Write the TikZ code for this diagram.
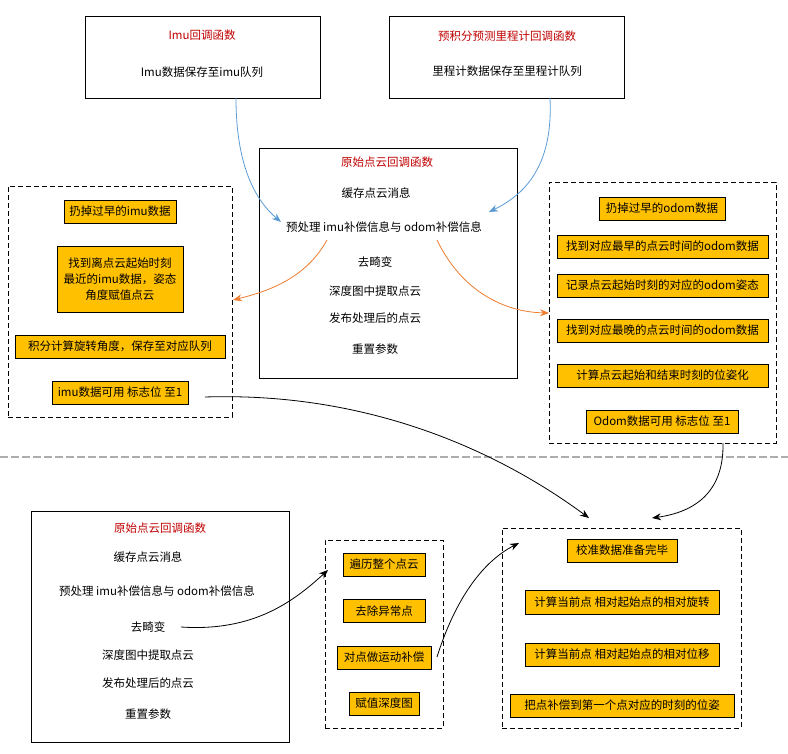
\documentclass[tikz,border=0pt]{standalone}
\usepackage{fontspec}
\setmainfont{Noto Sans CJK SC}
\usetikzlibrary{arrows.meta}
\definecolor{yfill}{HTML}{FFC000}
\definecolor{titlered}{HTML}{C00000}
\definecolor{cblue}{HTML}{5B9BD5}
\definecolor{corange}{HTML}{ED7D31}
\definecolor{sepgray}{HTML}{ADADAD}
\begin{document}
\begin{tikzpicture}[x=1pt,y=-1pt,
  every node/.style={font=\fontsize{11.5}{16}\selectfont},
  wbox/.style={draw=black, line width=0.9pt, fill=white, inner sep=0pt},
  dbox/.style={draw=black, line width=0.9pt, dash pattern=on 5pt off 3pt, inner sep=0pt},
  ybx/.style={draw=black, line width=0.8pt, fill=yfill, inner sep=0pt, align=center, minimum height=23},
  txt/.style={inner sep=0pt},
  ttl/.style={inner sep=0pt, text=titlered},
  conn/.style={line width=0.8pt, -{Stealth[length=9pt,width=7pt]}},
]
\useasboundingbox (0,0) rectangle (788,754);

% separator
\draw[sepgray, line width=1.2pt, dash pattern=on 8pt off 3pt] (0,457) -- (788,457);

% top white boxes
\node[wbox, minimum width=235, minimum height=82] (imu) at (202.5,57) {};
\node[ttl] (imut) at (202,35) {Imu回调函数};
\node[txt] (imub) at (202,72) {Imu数据保存至imu队列};

\node[wbox, minimum width=235, minimum height=82] (odo) at (506.5,57) {};
\node[ttl] (odot) at (507,36) {预积分预测里程计回调函数};
\node[txt] (odob) at (507,71) {里程计数据保存至里程计队列};

% center box
\node[wbox, minimum width=258, minimum height=230] (cen) at (388,263) {};
\node[ttl] (cent) at (387,162) {原始点云回调函数};
\node[txt] (c1) at (376,193) {缓存点云消息};
\node[txt] (c2) at (384,227) {预处理 imu补偿信息与 odom补偿信息};
\node[txt] (c3) at (375,262) {去畸变};
\node[txt] (c4) at (375,291) {深度图中提取点云};
\node[txt] (c5) at (375,318) {发布处理后的点云};
\node[txt] (c6) at (375,349) {重置参数};

% left dashed group
\node[dbox, minimum width=224, minimum height=231] (lg) at (120,301.5) {};
\node[ybx, minimum width=112] (lb1) at (120,211.5) {扔掉过早的imu数据};
\node[ybx, minimum width=126, minimum height=66] (lb2) at (120,279) {找到离点云起始时刻\\最近的imu数据，姿态\\角度赋值点云};
\node[ybx, minimum width=210] (lb3) at (120,346.5) {积分计算旋转角度，保存至对应队列};
\node[ybx, minimum width=136] (lb4) at (120,392.5) {imu数据可用 标志位 至1};

% right dashed group
\node[dbox, minimum width=227, minimum height=261] (rg) at (662.5,312.5) {};
\node[ybx, minimum width=126] (rb1) at (662,208.5) {扔掉过早的odom数据};
\node[ybx, minimum width=211] (rb2) at (662.5,246.5) {找到对应最早的点云时间的odom数据};
\node[ybx, minimum width=211] (rb3) at (662.5,285.5) {记录点云起始时刻的对应的odom姿态};
\node[ybx, minimum width=211] (rb4) at (662.5,330.5) {找到对应最晚的点云时间的odom数据};
\node[ybx, minimum width=211] (rb5) at (662.5,375.5) {计算点云起始和结束时刻的位姿化};
\node[ybx, minimum width=152] (rb6) at (662,421.5) {Odom数据可用 标志位 至1};

% bottom-left box
\node[wbox, minimum width=258, minimum height=231] (bl) at (160,626.5) {};
\node[ttl] (blt) at (160,528) {原始点云回调函数};
\node[txt] (bl1) at (148,557) {缓存点云消息};
\node[txt] (bl2) at (157,591) {预处理 imu补偿信息与 odom补偿信息};
\node[txt] (bl3) at (148,627) {去畸变};
\node[txt] (bl4) at (148,655) {深度图中提取点云};
\node[txt] (bl5) at (148,683) {发布处理后的点云};
\node[txt] (bl6) at (148,714) {重置参数};

% middle dashed group
\node[dbox, minimum width=118, minimum height=188] (mg) at (384,634) {};
\node[ybx, minimum width=82] (mb1) at (384,564.5) {遍历整个点云};
\node[ybx, minimum width=82] (mb2) at (384,611) {去除异常点};
\node[ybx, minimum width=94] (mb3) at (384,657.5) {对点做运动补偿};
\node[ybx, minimum width=70] (mb4) at (384,703.5) {赋值深度图};

% bottom-right dashed group
\node[dbox, minimum width=239, minimum height=200] (bg) at (621.5,628) {};
\node[ybx, minimum width=110] (bb1) at (622,550.5) {校准数据准备完毕};
\node[ybx, minimum width=194, minimum height=24] (bb2) at (622,602) {计算当前点 相对起始点的相对旋转};
\node[ybx, minimum width=194] (bb3) at (622,654.5) {计算当前点 相对起始点的相对位移};
\node[ybx, minimum width=224] (bb4) at (622,705.5) {把点补偿到第一个点对应的时刻的位姿};

% connector coordinates
\coordinate (a1s) at (236,98);
\coordinate (a1e) at (281,222);
\coordinate (a2s) at (550,98);
\coordinate (a2e) at (489,212);
\coordinate (a3s) at (327,240);
\coordinate (a3e) at (233,300);
\coordinate (a4s) at (437,240);
\coordinate (a4e) at (549,313);
\coordinate (a5s) at (205,397);
\coordinate (a5e) at (589,518);
\coordinate (a6s) at (723,443);
\coordinate (a6e) at (652,518);
\coordinate (a7s) at (181,627);
\coordinate (a7e) at (328,570);
\coordinate (a8s) at (437,657);
\coordinate (a8e) at (519,543);

\draw[conn, cblue] (a1s) .. controls (236,165) and (255,200) .. (a1e);
\draw[conn, cblue] (a2s) .. controls (553,160) and (530,192) .. (a2e);
\draw[conn, corange] (a3s) .. controls (305,280) and (265,292) .. (a3e);
\draw[conn, corange] (a4s) .. controls (462,292) and (505,312) .. (a4e);
\draw[conn, black] (a5s) .. controls (360,392) and (490,445) .. (a5e);
\draw[conn, black] (a6s) .. controls (724,492) and (695,512) .. (a6e);
\draw[conn, black] (a7s) .. controls (255,632) and (295,600) .. (a7e);
\draw[conn, black] (a8s) .. controls (455,600) and (482,562) .. (a8e);
\end{tikzpicture}
\end{document}
